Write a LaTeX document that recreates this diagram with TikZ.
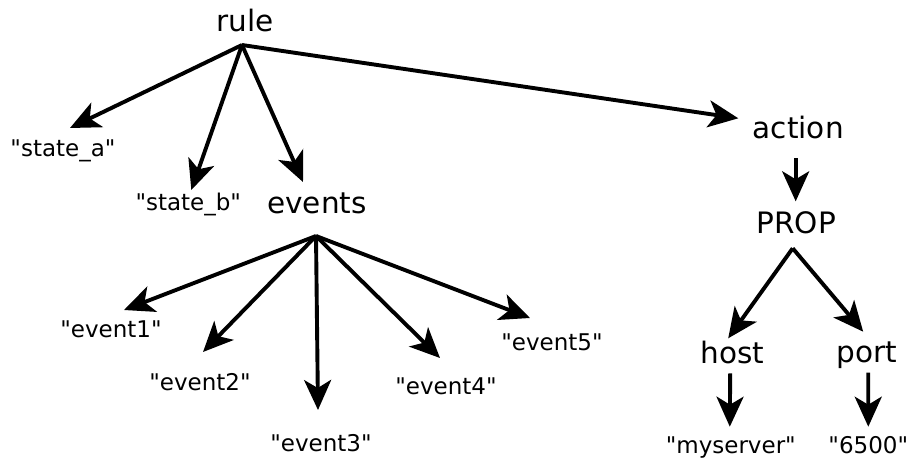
\documentclass[tikz,border=0pt]{standalone}
\usepackage{fontspec}
% plain straight quotes: no TeX input ligatures
\setmainfont{DejaVu Sans}[Ligatures=TeXOff]
\usetikzlibrary{arrows.meta}
\begin{document}
\begin{tikzpicture}[x=1pt,y=-1pt,
  big/.style={font=\fontsize{29.5}{34}\selectfont, inner sep=0pt, anchor=base},
  small/.style={font=\fontsize{23}{27}\selectfont, inner sep=0pt, anchor=base},
  edge/.style={line width=3.9pt, -{Stealth[length=30pt,width=27pt,inset=8pt]}}]
\useasboundingbox (0,0) rectangle (911,460);

% tree nodes, placed by their baselines
\node[big]   (rule)   at (245,32)    {rule};
\node[small] (sa)     at (63,156.7)  {"state\_a"};
\node[small] (sb)     at (188.3,210.7) {"state\_b"};
\node[big]   (events) at (317,213)   {events};
\node[big]   (action) at (798.3,138.3) {action};
\node[big]   (prop)   at (796.3,233.3) {PROP};
\node[big]   (host)   at (732.2,363.3) {host};
\node[big]   (port)   at (867.2,362.7) {port};
\node[small] (myserver) at (730.8,453.3) {"myserver"};
\node[small] (p6500)  at (868.3,453.3) {"6500"};
\node[small] (e1)     at (111,337)   {"event1"};
\node[small] (e2)     at (200,390)   {"event2"};
\node[small] (e3)     at (321,451)   {"event3"};
\node[small] (e4)     at (446,394)   {"event4"};
\node[small] (e5)     at (552,350)   {"event5"};

% rule and its children
\draw[edge] ([shift={(-3,13)}]rule.base) -- ([shift={(7,-28.7)}]sa.base);
\draw[edge] ([shift={(-3,13)}]rule.base) -- ([shift={(3,-20.7)}]sb.base);
\draw[edge] ([shift={(-3,13)}]rule.base) -- ([shift={(-14,-31)}]events.base);
\draw[edge] ([shift={(-3,13)}]rule.base) -- ([shift={(-60,-20)}]action.base);

% events fan
\draw[edge] ([shift={(-1,23)}]events.base) -- ([shift={(13,-27)}]e1.base);
\draw[edge] ([shift={(-1,23)}]events.base) -- ([shift={(3,-38)}]e2.base);
\draw[edge] ([shift={(-1,23)}]events.base) -- ([shift={(-3,-41)}]e3.base);
\draw[edge] ([shift={(-1,23)}]events.base) -- ([shift={(-6,-36)}]e4.base);
\draw[edge] ([shift={(-1,23)}]events.base) -- ([shift={(-22,-32)}]e5.base);

% action branch
\draw[edge] ([shift={(-2.6,20)}]action.base) -- ([shift={(-0.6,-32)}]prop.base);
\draw[edge] ([shift={(-3.6,15)}]prop.base) -- ([shift={(-4,-25)}]host.base);
\draw[edge] ([shift={(-3.6,15)}]prop.base) -- ([shift={(-4,-31)}]port.base);
\draw[edge] ([shift={(-2,10)}]host.base) -- ([shift={(-1,-26.6)}]myserver.base);
\draw[edge] ([shift={(1,10)}]port.base) -- ([shift={(0,-26.6)}]p6500.base);
\end{tikzpicture}
\end{document}
